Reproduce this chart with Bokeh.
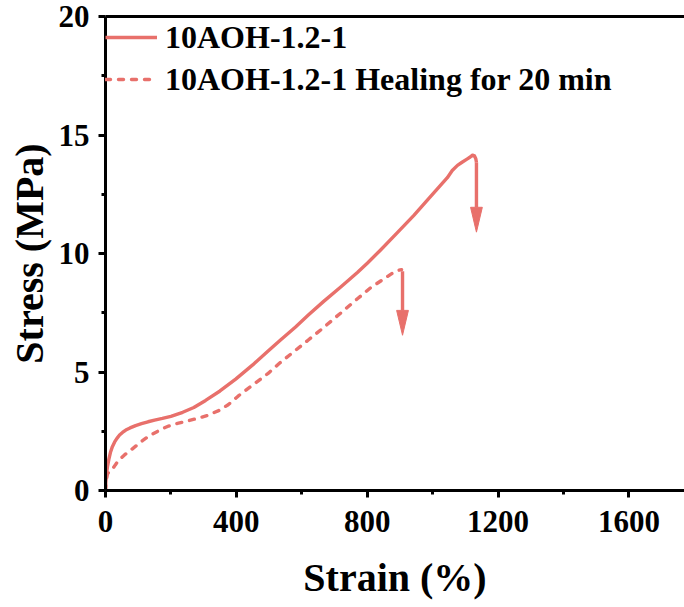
from bokeh.plotting import figure
from bokeh.models import Range1d, FixedTicker, LinearAxis, Legend, LegendItem
from bokeh.embed import file_html
from bokeh.resources import INLINE

# ---------------- data ----------------
strain_orig = [0, 1, 3, 6, 10, 15, 21, 28, 35, 43, 52, 62, 75, 92, 110, 130, 150,
               174, 200, 236, 270, 306, 350, 398, 450, 498, 535, 581, 620, 667,
               720, 770, 801, 841, 890, 942, 990, 1045, 1060, 1076, 1090, 1105,
               1115, 1122, 1128, 1132, 1134]
stress_orig = [0, 0.35, 0.7, 1.0, 1.3, 1.6, 1.85, 2.05, 2.2, 2.34, 2.45, 2.55,
               2.64, 2.74, 2.82, 2.9, 2.97, 3.04, 3.13, 3.3, 3.5, 3.8, 4.2, 4.7,
               5.3, 5.9, 6.35, 6.9, 7.4, 7.98, 8.6, 9.2, 9.6, 10.15, 10.85, 11.6,
               12.35, 13.2, 13.5, 13.72, 13.85, 13.98, 14.07, 14.15, 14.12, 14.0,
               13.85]

strain_heal = [0, 2, 6, 12, 21, 30, 40, 58, 76, 95, 113, 133, 153, 173, 193, 220,
               250, 275, 310, 346, 375, 407, 450, 498, 530, 566, 620, 667, 720,
               771, 810, 850, 875, 893, 905]
stress_heal = [0, 0.4, 0.7, 0.8, 0.9, 1.08, 1.27, 1.5, 1.69, 1.9, 2.1, 2.3, 2.45,
               2.6, 2.72, 2.83, 2.93, 3.02, 3.16, 3.37, 3.62, 4.0, 4.45, 4.95,
               5.35, 5.75, 6.35, 6.88, 7.5, 8.1, 8.55, 8.92, 9.15, 9.28, 9.32]

labels = ["10AOH-1.2-1", "10AOH-1.2-1 Healing for 20 min"]

# fracture arrows: x position, start stress, tip stress
arrow_x = [1134, 908]
arrow_y0 = [13.85, 9.25]
arrow_y1 = [10.9, 6.55]

x_ticks = [0, 400, 800, 1200, 1600]
x_minor = [200, 600, 1000, 1400]
y_ticks = [0, 5, 10, 15, 20]
y_minor = [2.5, 7.5, 12.5, 17.5]

COLOR = "#E8706B"
FONT = "'Liberation Serif', 'Times New Roman', serif"

p = figure(width=684, height=607, x_range=Range1d(0, 1770), y_range=Range1d(0, 20),
           output_backend="svg", toolbar_location=None,
           min_border_left=105, min_border_right=0, min_border_top=16,
           min_border_bottom=117)
p.outline_line_color = None
p.xgrid.visible = False
p.ygrid.visible = False
p.background_fill_color = "white"
p.border_fill_color = "white"

for ax in (p.xaxis[0], p.yaxis[0]):
    ax.axis_line_width = 3
    ax.axis_line_color = "black"
    ax.major_tick_line_width = 3
    ax.minor_tick_line_width = 3
    ax.major_tick_in = 0
    ax.major_tick_out = 7
    ax.minor_tick_in = 0
    ax.minor_tick_out = 4
    ax.major_label_text_font = FONT
    ax.major_label_text_font_style = "bold"
    ax.major_label_text_font_size = "31px"
    ax.major_label_text_color = "black"
    ax.axis_label_text_font = FONT
    ax.axis_label_text_font_style = "bold"
    ax.axis_label_text_font_size = "40px"
    ax.axis_label_text_color = "black"

p.xaxis.ticker = FixedTicker(ticks=x_ticks, minor_ticks=x_minor)
p.yaxis.ticker = FixedTicker(ticks=y_ticks, minor_ticks=y_minor)
p.xaxis.axis_label = "Strain (%)"
p.yaxis.axis_label = "Stress (MPa)"
p.xaxis.major_label_standoff = 13
p.yaxis.major_label_standoff = 9
p.xaxis.axis_label_standoff = 20
p.yaxis.axis_label_standoff = 4

top = LinearAxis(ticker=FixedTicker(ticks=[]), axis_line_width=3,
                 major_tick_out=0, major_tick_in=0, minor_tick_out=0,
                 major_label_text_font_size="0px", major_label_standoff=0)
p.add_layout(top, "above")

r1 = p.line(strain_orig, stress_orig, line_color=COLOR, line_width=3.4,
            line_join="round")
r2 = p.line(strain_heal, stress_heal, line_color=COLOR, line_width=3.4,
            line_dash="5 8", line_cap="round", line_join="round")

# arrows (shaft + filled head), head size in data units
head_half_w = 18
head_len = 1.05
for xa, ya0, ya1 in zip(arrow_x, arrow_y0, arrow_y1):
    p.line([xa, xa], [ya0, ya1 + head_len], line_color=COLOR, line_width=3.4)
    p.patch([xa - head_half_w, xa + head_half_w, xa],
            [ya1 + head_len, ya1 + head_len, ya1],
            fill_color=COLOR, line_color=COLOR, line_width=1)

legend = Legend(items=[LegendItem(label=labels[0], renderers=[r1]),
                       LegendItem(label=labels[1], renderers=[r2])],
                location="top_left", margin=0, padding=10, spacing=0,
                glyph_width=52, glyph_height=42, label_height=42,
                label_standoff=8, border_line_color=None,
                background_fill_alpha=0,
                label_text_font=FONT, label_text_font_style="bold",
                label_text_font_size="32px", label_text_color="black")
p.add_layout(legend)

open("out.html", "w").write(file_html(p, INLINE))
